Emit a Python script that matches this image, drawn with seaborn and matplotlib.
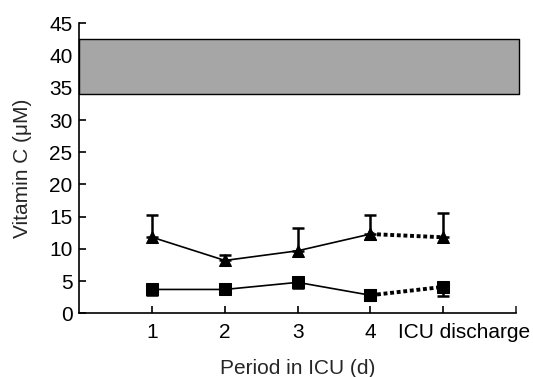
import numpy as np
import pandas as pd
import seaborn as sns
import matplotlib.pyplot as plt
import matplotlib.transforms as mtransforms

# Data
periods = [1, 2, 3, 4, 5]
period_labels = ["1", "2", "3", "4", "ICU discharge"]

tri_mean = [11.8, 8.2, 9.7, 12.3, 11.8]
tri_upper = [15.2, 9.0, 13.3, 15.2, 15.5]

sq_mean = [3.7, 3.7, 4.8, 2.8, 4.1]
sq_lower = [2.8, 3.3, 3.9, 2.4, 2.7]

ref_low, ref_high = 34.0, 42.6

sns.set_style("ticks")
plt.rcParams['font.family'] = ['Liberation Sans', 'DejaVu Sans']

df = pd.DataFrame({"period": periods, "tri": tri_mean, "sq": sq_mean})

fig, ax = plt.subplots(figsize=(5.33, 3.77), dpi=100)
fig.subplots_adjust(left=0.149, right=0.968, bottom=0.169, top=0.938)

# Reference range band
ax.fill_between([0, 6.04], ref_low, ref_high, facecolor="#a6a6a6",
                edgecolor="black", linewidth=1.0, clip_on=False, zorder=1)

# Error bars (one-sided)
tri_err = np.array(tri_upper) - np.array(tri_mean)
sq_err = np.array(sq_mean) - np.array(sq_lower)
ax.errorbar(periods, tri_mean, yerr=[np.zeros(5), tri_err], fmt="none",
            ecolor="black", elinewidth=1.8, capsize=4.5, capthick=1.8, zorder=2)
ax.errorbar(periods, sq_mean, yerr=[sq_err, np.zeros(5)], fmt="none",
            ecolor="black", elinewidth=1.8, capsize=4.5, capthick=1.8, zorder=2)

# Solid lines for days 1-4, dotted to discharge
solid = df[df["period"] <= 4]
dotted = df[df["period"] >= 4]
for col, mk in [("tri", "^"), ("sq", "s")]:
    sns.lineplot(data=solid, x="period", y=col, color="black", lw=1.2, ax=ax,
                 marker=mk, markersize=8, markeredgecolor="black", zorder=3)
    sns.lineplot(data=dotted, x="period", y=col, color="black", lw=2.8, ax=ax,
                 linestyle=(0, (1, 0.7)), marker=mk, markersize=8,
                 markeredgecolor="black", zorder=3)

ax.set_xlim(0, 6)
ax.set_ylim(0, 45)
ax.set_yticks(range(0, 46, 5))
ax.set_xticks(periods)
ax.set_xticklabels(period_labels)
ax.set_xticks([6], minor=True)
ax.tick_params(axis="both", direction="in", length=5, width=1.2, labelsize=15,
               color="black", labelcolor="black")
ax.tick_params(axis="x", which="minor", direction="in", length=5, width=1.2)
ax.tick_params(axis="x", pad=7)
ax.tick_params(axis="y", pad=5)
ax.set_xlabel("Period in ICU (d)", fontsize=15, labelpad=12)
ax.set_ylabel("Vitamin C (\u03bcM)", fontsize=15, labelpad=12)

# the discharge label sits to the right of its tick
last = ax.get_xticklabels()[-1]
last.set_transform(last.get_transform() +
                   mtransforms.ScaledTranslation(0.21, 0, fig.dpi_scale_trans))

sns.despine(ax=ax)
for s in ["left", "bottom"]:
    ax.spines[s].set_linewidth(1.2)
    ax.spines[s].set_color("black")

fig.savefig("out.png", dpi=100)
